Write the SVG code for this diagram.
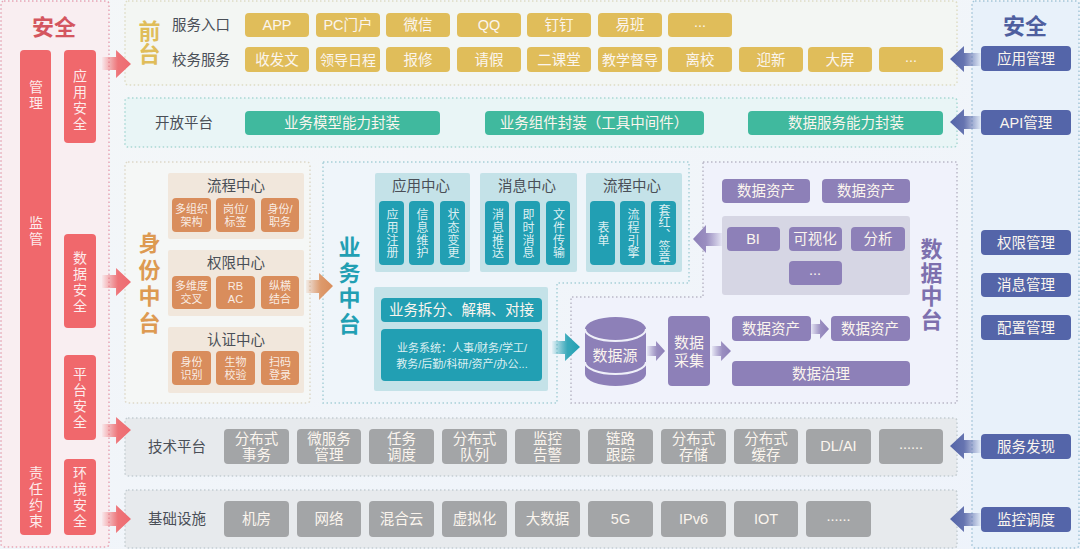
<svg xmlns="http://www.w3.org/2000/svg" width="1080" height="549" viewBox="0 0 1080 549">
<style>
text{font-family:"Liberation Sans","Noto Sans CJK SC",sans-serif;text-anchor:middle;dominant-baseline:central}
.p{stroke-width:1.5;stroke-dasharray:1.5 2.5}
.r{rx:4px}
.w{fill:#fbf5ee;font-size:14.5px}
.l14{fill:#fff;font-size:14px;fill-opacity:.88;writing-mode:vertical-rl;letter-spacing:2px}
.l12{fill:#fff;font-size:12px;fill-opacity:.85;writing-mode:vertical-rl;letter-spacing:.7px}
.l11{fill:#fff;font-size:11px;fill-opacity:.85}
.d{fill:#4a4f57;font-size:14.5px}
.h{font-size:22px;font-weight:700;writing-mode:vertical-rl}
.y{fill:#e0bd5a}.g{fill:#40b99e}.o{fill:#d98d5c}.t{fill:#229fb3}.v{fill:#8d80b8}.n{fill:#5465a9}.a{fill:#a3a5a7}.s{fill:#f0686c}
.gb{fill:#f1e7dc}.tb{fill:#c4e2e8}
</style>
<defs>
<linearGradient id="bg" x1="0" y1="0" x2="1" y2="1"><stop offset="0" stop-color="#f4f7f8"/><stop offset="1" stop-color="#eef3fb"/></linearGradient>
<linearGradient id="ar" x1="0" x2="1" y1="0" y2="0"><stop offset="0" stop-color="#f0686c" stop-opacity=".05"/><stop offset=".55" stop-color="#ee7478"/><stop offset="1" stop-color="#ee6a70"/></linearGradient>
<linearGradient id="ab" x1="1" x2="0" y1="0" y2="0"><stop offset="0" stop-color="#5465a9" stop-opacity=".05"/><stop offset=".55" stop-color="#6674b0"/><stop offset="1" stop-color="#5465a9"/></linearGradient>
<linearGradient id="ao" x1="0" x2="1" y1="0" y2="0"><stop offset="0" stop-color="#d98d5c" stop-opacity=".1"/><stop offset=".55" stop-color="#dd9a6c"/><stop offset="1" stop-color="#d98d5c"/></linearGradient>
<linearGradient id="at" x1="0" x2="1" y1="0" y2="0"><stop offset="0" stop-color="#229fb3" stop-opacity=".05"/><stop offset=".55" stop-color="#38a9ba"/><stop offset="1" stop-color="#229fb3"/></linearGradient>
<linearGradient id="av" x1="0" x2="1" y1="0" y2="0"><stop offset="0" stop-color="#8d80b8" stop-opacity=".1"/><stop offset=".55" stop-color="#9a8ec0"/><stop offset="1" stop-color="#8d80b8"/></linearGradient>
<linearGradient id="al" x1="1" x2="0" y1="0" y2="0"><stop offset="0" stop-color="#8d80b8" stop-opacity=".1"/><stop offset=".55" stop-color="#9a8ec0"/><stop offset="1" stop-color="#8d80b8"/></linearGradient>
</defs>
<rect width="1080" height="549" fill="url(#bg)"/>

<g id="security-left">
<rect class="p" x="1" y="1" width="108" height="546" rx="3" fill="#f9eef1" stroke="#e7a4b4"/>
<text x="54" y="27" font-size="22" font-weight="700" fill="#d4565f">安全</text>
<rect class="s r" x="20" y="50" width="31" height="485"/>
<text class="l14" x="35" y="96">管理</text>
<text class="l14" x="35" y="232">监管</text>
<text class="l14" x="35" y="498">责任约束</text>
<rect class="s r" x="64" y="50" width="32" height="93"/>
<text class="l14" x="79" y="101">应用安全</text>
<rect class="s r" x="64" y="234" width="32" height="94"/>
<text class="l14" x="79" y="283">数据安全</text>
<rect class="s r" x="64" y="355" width="32" height="85"/>
<text class="l14" x="79" y="399">平台安全</text>
<rect class="s r" x="64" y="459" width="32" height="76"/>
<text class="l14" x="79" y="498">环境安全</text>
</g>

<g id="frontend">
<rect class="p" x="125" y="1" width="832" height="84" rx="3" fill="#f3f6f3" stroke="#dedcc4"/>
<text class="h y" x="147" y="43" style="letter-spacing:1px">前台</text>
<text class="d" x="201" y="25">服务入口</text><text class="d" x="201" y="60">校务服务</text>
<rect class="y r" x="245" y="13" width="64" height="24"/><text class="w" x="277" y="25">APP</text>
<rect class="y r" x="316" y="13" width="64" height="24"/><text class="w" x="348" y="25">PC门户</text>
<rect class="y r" x="386" y="13" width="64" height="24"/><text class="w" x="418" y="25">微信</text>
<rect class="y r" x="457" y="13" width="64" height="24"/><text class="w" x="489" y="25">QQ</text>
<rect class="y r" x="527" y="13" width="64" height="24"/><text class="w" x="559" y="25">钉钉</text>
<rect class="y r" x="598" y="13" width="64" height="24"/><text class="w" x="630" y="25">易班</text>
<rect class="y r" x="668" y="13" width="64" height="24"/><text class="w" x="700" y="22">...</text>
<rect class="y r" x="245" y="47" width="64" height="25"/><text class="w" x="277" y="60">收发文</text>
<rect class="y r" x="316" y="47" width="64" height="25"/><text class="w" x="348" y="60" style="font-size:14px">领导日程</text>
<rect class="y r" x="386" y="47" width="64" height="25"/><text class="w" x="418" y="60">报修</text>
<rect class="y r" x="457" y="47" width="64" height="25"/><text class="w" x="489" y="60">请假</text>
<rect class="y r" x="527" y="47" width="64" height="25"/><text class="w" x="559" y="60">二课堂</text>
<rect class="y r" x="598" y="47" width="64" height="25"/><text class="w" x="630" y="60" style="font-size:14px">教学督导</text>
<rect class="y r" x="668" y="47" width="64" height="25"/><text class="w" x="700" y="60">离校</text>
<rect class="y r" x="739" y="47" width="64" height="25"/><text class="w" x="771" y="60">迎新</text>
<rect class="y r" x="808" y="47" width="64" height="25"/><text class="w" x="840" y="60">大屏</text>
<rect class="y r" x="879" y="47" width="64" height="25"/><text class="w" x="911" y="57">...</text>
</g>

<g id="open-platform">
<rect class="p" x="125" y="98" width="832" height="49" rx="3" fill="#e9f5f6" stroke="#a9d8d4"/>
<text class="d" x="184" y="123">开放平台</text>
<rect class="g r" x="245" y="111" width="195" height="24"/><text class="w" x="342" y="123">业务模型能力封装</text>
<rect class="g r" x="485" y="111" width="219" height="24"/><text class="w" x="594" y="123">业务组件封装（工具中间件）</text>
<rect class="g r" x="748" y="111" width="195" height="24"/><text class="w" x="846" y="123">数据服务能力封装</text>
</g>

<g id="identity">
<rect class="p" x="125" y="162" width="185" height="241" rx="3" fill="#f5f7f6" stroke="#ddd8c8"/>
<text class="h" fill="#dd9a52" x="147" y="285" style="letter-spacing:4.500px">身份中台</text>
<rect class="gb" x="168" y="173" width="136" height="66" rx="2"/><text class="d" x="236" y="186">流程中心</text>
<rect class="o r" x="172" y="198" width="39" height="34"/><text class="l11" x="191.500" y="209"><tspan x="191.500">多组织</tspan><tspan x="191.500" dy="13">架构</tspan></text>
<rect class="o r" x="216" y="198" width="39" height="34"/><text class="l11" x="235.500" y="209"><tspan x="235.500">岗位/</tspan><tspan x="235.500" dy="13">标签</tspan></text>
<rect class="o r" x="261" y="198" width="38" height="34"/><text class="l11" x="280" y="209"><tspan x="280">身份/</tspan><tspan x="280" dy="13">职务</tspan></text>
<rect class="gb" x="168" y="250" width="136" height="66" rx="2"/><text class="d" x="236" y="263">权限中心</text>
<rect class="o r" x="172" y="276" width="39" height="33"/><text class="l11" x="191.500" y="286"><tspan x="191.500">多维度</tspan><tspan x="191.500" dy="13">交叉</tspan></text>
<rect class="o r" x="216" y="276" width="39" height="33"/><text class="l11" x="235.500" y="286"><tspan x="235.500">RB</tspan><tspan x="235.500" dy="13">AC</tspan></text>
<rect class="o r" x="261" y="276" width="38" height="33"/><text class="l11" x="280" y="286"><tspan x="280">纵横</tspan><tspan x="280" dy="13">结合</tspan></text>
<rect class="gb" x="168" y="327" width="136" height="66" rx="2"/><text class="d" x="236" y="340">认证中心</text>
<rect class="o r" x="172" y="351" width="39" height="34"/><text class="l11" x="191.500" y="362"><tspan x="191.500">身份</tspan><tspan x="191.500" dy="13">识别</tspan></text>
<rect class="o r" x="216" y="351" width="39" height="34"/><text class="l11" x="235.500" y="362"><tspan x="235.500">生物</tspan><tspan x="235.500" dy="13">校验</tspan></text>
<rect class="o r" x="261" y="351" width="38" height="34"/><text class="l11" x="280" y="362"><tspan x="280">扫码</tspan><tspan x="280" dy="13">登录</tspan></text>
</g>

<g id="business">
<path class="p" d="M323 162H689V283H557V403H323Z" fill="#eff5fa" stroke="#a8cfd8"/>
<text class="h" fill="#229fb3" x="347" y="287" style="letter-spacing:3.500px">业务中台</text>
<rect class="tb" x="375" y="173" width="95" height="99" rx="2"/><text class="d" x="421" y="186">应用中心</text>
<rect class="t r" x="379" y="201" width="25" height="64"/><text class="l12" x="391" y="234">应用注册</text>
<rect class="t r" x="409" y="201" width="25" height="64"/><text class="l12" x="421" y="234">信息维护</text>
<rect class="t r" x="440" y="201" width="25" height="64"/><text class="l12" x="452" y="234">状态变更</text>
<rect class="tb" x="480" y="173" width="97" height="99" rx="2"/><text class="d" x="527" y="186">消息中心</text>
<rect class="t r" x="485" y="201" width="24" height="64"/><text class="l12" x="496.500" y="234">消息推送</text>
<rect class="t r" x="515" y="201" width="25" height="64"/><text class="l12" x="527" y="234">即时消息</text>
<rect class="t r" x="546" y="201" width="24" height="64"/><text class="l12" x="557.500" y="234">文件传输</text>
<rect class="tb" x="586" y="173" width="96" height="99" rx="2"/><text class="d" x="632" y="186">流程中心</text>
<rect class="t r" x="590" y="201" width="25" height="64"/><text class="l12" x="602" y="234">表单</text>
<rect class="t r" x="620" y="201" width="25" height="64"/><text class="l12" x="632" y="234">流程引擎</text>
<rect class="t r" x="651" y="201" width="25" height="64"/><text class="l12" x="663" y="234" style="letter-spacing:0">套红、签章</text>
<rect class="tb" x="374" y="287" width="174" height="104" rx="2"/>
<rect class="t r" x="381" y="298" width="161" height="24"/><text class="w" x="461.500" y="310">业务拆分、解耦、对接</text>
<rect class="t r" x="381" y="329" width="161" height="52"/><text class="l11" x="462" y="348"><tspan x="462">业务系统：人事/财务/学工/</tspan><tspan x="462" dy="16">教务/后勤/科研/资产/办公...</tspan></text>
</g>

<g id="data">
<path class="p" d="M703 162H957V403H571V297H703Z" fill="#f0f2fb" stroke="#b9b8c8"/>
<text class="h" fill="#7d70ae" x="929" y="285" style="letter-spacing:1.500px">数据中台</text>
<rect class="v r" x="722" y="179" width="88" height="24"/><text class="w" x="766" y="191">数据资产</text>
<rect class="v r" x="822" y="179" width="88" height="24"/><text class="w" x="866" y="191">数据资产</text>
<rect x="722" y="216" width="188" height="79" rx="3" fill="#d6d6e4"/>
<rect class="v r" x="727" y="227" width="53" height="24"/><text class="w" x="753" y="239">BI</text>
<rect class="v r" x="789" y="227" width="53" height="24"/><text class="w" x="815" y="239">可视化</text>
<rect class="v r" x="851" y="227" width="54" height="24"/><text class="w" x="878" y="239">分析</text>
<rect class="v r" x="789" y="261" width="53" height="24"/><text class="w" x="815" y="270">...</text>
<path class="v" d="M585 329A30.500 12 0 0 1 646 329V374A30.500 12 0 0 1 585 374Z"/>
<path d="M585 329A30.500 12 0 0 0 646 329M585 362A30.500 12 0 0 0 646 362" fill="none" stroke="#eff0f9" stroke-width="2"/>
<text class="w" x="615" y="355" style="font-size:15px">数据源</text>
<rect class="v r" x="668" y="316" width="42" height="70"/><text class="w" x="689" y="342" style="font-size:15px"><tspan x="689">数据</tspan><tspan x="689" dy="18">采集</tspan></text>
<rect class="v r" x="732" y="316" width="79" height="25"/><text class="w" x="771" y="329">数据资产</text>
<rect class="v r" x="831" y="316" width="79" height="25"/><text class="w" x="870" y="329">数据资产</text>
<rect class="v r" x="732" y="361" width="178" height="25"/><text class="w" x="821" y="374">数据治理</text>
</g>

<g id="tech-platform">
<rect class="p" x="125" y="418" width="832" height="58" rx="3" fill="#e7eaed" stroke="#c4cdd2"/>
<text class="d" x="177" y="447">技术平台</text>
<rect class="a r" x="224" y="429" width="65" height="35"/><text class="w" x="256.500" y="438.500"><tspan x="256.500">分布式</tspan><tspan x="256.500" dy="16.500">事务</tspan></text>
<rect class="a r" x="297" y="429" width="64" height="35"/><text class="w" x="329" y="438.500"><tspan x="329">微服务</tspan><tspan x="329" dy="16.500">管理</tspan></text>
<rect class="a r" x="369" y="429" width="65" height="35"/><text class="w" x="401.500" y="438.500"><tspan x="401.500">任务</tspan><tspan x="401.500" dy="16.500">调度</tspan></text>
<rect class="a r" x="442" y="429" width="65" height="35"/><text class="w" x="474.500" y="438.500"><tspan x="474.500">分布式</tspan><tspan x="474.500" dy="16.500">队列</tspan></text>
<rect class="a r" x="515" y="429" width="65" height="35"/><text class="w" x="547.500" y="438.500"><tspan x="547.500">监控</tspan><tspan x="547.500" dy="16.500">告警</tspan></text>
<rect class="a r" x="588" y="429" width="65" height="35"/><text class="w" x="620.500" y="438.500"><tspan x="620.500">链路</tspan><tspan x="620.500" dy="16.500">跟踪</tspan></text>
<rect class="a r" x="661" y="429" width="65" height="35"/><text class="w" x="693.500" y="438.500"><tspan x="693.500">分布式</tspan><tspan x="693.500" dy="16.500">存储</tspan></text>
<rect class="a r" x="734" y="429" width="64" height="35"/><text class="w" x="766" y="438.500"><tspan x="766">分布式</tspan><tspan x="766" dy="16.500">缓存</tspan></text>
<rect class="a r" x="806" y="429" width="65" height="35"/><text class="w" x="838.500" y="446">DL/AI</text>
<rect class="a r" x="879" y="429" width="64" height="35"/><text class="w" x="911" y="444">......</text>
</g>

<g id="infrastructure">
<rect class="p" x="125" y="490" width="832" height="58" rx="3" fill="#e7eaed" stroke="#c4cdd2"/>
<text class="d" x="177" y="519">基础设施</text>
<rect class="a r" x="224" y="501" width="65" height="36"/><text class="w" x="256.500" y="519">机房</text>
<rect class="a r" x="297" y="501" width="64" height="36"/><text class="w" x="329" y="519">网络</text>
<rect class="a r" x="369" y="501" width="65" height="36"/><text class="w" x="401.500" y="519">混合云</text>
<rect class="a r" x="442" y="501" width="65" height="36"/><text class="w" x="474.500" y="519">虚拟化</text>
<rect class="a r" x="515" y="501" width="65" height="36"/><text class="w" x="547.500" y="519">大数据</text>
<rect class="a r" x="588" y="501" width="65" height="36"/><text class="w" x="620.500" y="519">5G</text>
<rect class="a r" x="661" y="501" width="65" height="36"/><text class="w" x="693.500" y="519">IPv6</text>
<rect class="a r" x="734" y="501" width="64" height="36"/><text class="w" x="766" y="519">IOT</text>
<rect class="a r" x="806" y="501" width="65" height="36"/><text class="w" x="838.500" y="516">......</text>
</g>

<g id="security-right">
<rect class="p" x="972" y="1" width="107" height="547" rx="3" fill="#e8f1fa" stroke="#a3c5d8"/>
<text x="1025" y="26" font-size="22" font-weight="700" fill="#4f5f9f">安全</text>
<rect class="n r" x="981" y="46" width="90" height="25"/><text class="w" x="1026" y="59">应用管理</text>
<rect class="n r" x="981" y="110" width="90" height="25"/><text class="w" x="1026" y="123">API管理</text>
<rect class="n r" x="981" y="230" width="90" height="25"/><text class="w" x="1026" y="243">权限管理</text>
<rect class="n r" x="981" y="273" width="90" height="24"/><text class="w" x="1026" y="285">消息管理</text>
<rect class="n r" x="981" y="315" width="90" height="25"/><text class="w" x="1026" y="328">配置管理</text>
<rect class="n r" x="981" y="434" width="90" height="25"/><text class="w" x="1026" y="447">服务发现</text>
<rect class="n r" x="981" y="507" width="90" height="25"/><text class="w" x="1026" y="520">监控调度</text>
</g>

<g id="connectors">
<path fill="url(#ar)" d="M102 57H116V50L131 64L116 78V70H102Z"/>
<path fill="url(#ar)" d="M102 275H116V268L131 282L116 296V288H102Z"/>
<path fill="url(#ar)" d="M102 424H116V417L131 430L116 444V437H102Z"/>
<path fill="url(#ar)" d="M102 512H116V505L131 519L116 533V526H102Z"/>
<path fill="url(#ab)" d="M981 53H964V46L950 59L964 72V66H981Z"/>
<path fill="url(#ab)" d="M981 116H964V109L950 122L964 135V129H981Z"/>
<path fill="url(#ab)" d="M981 440H964V433L950 446L964 459V453H981Z"/>
<path fill="url(#ab)" d="M981 513H964V506L950 519L964 532V526H981Z"/>
<path fill="url(#ao)" d="M306 280H319V273L333 286L319 300V293H306Z"/>
<path fill="url(#at)" d="M552 341H565V333L580 347L565 361V354H552Z"/>
<path fill="url(#av)" d="M647 346H656V341L665 351L656 361V356H647Z"/>
<path fill="url(#av)" d="M712 346H721V341L731 351L721 361V356H712Z"/>
<path fill="url(#av)" d="M811 324H820V319L829 329L820 339V334H811Z"/>
<path fill="url(#al)" d="M722 233H706V225L693 239L706 253V246H722Z"/>
</g>
</svg>
